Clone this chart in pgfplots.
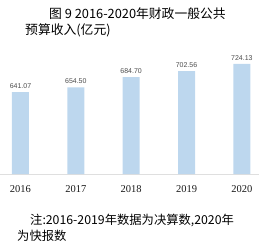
\documentclass[border=0pt]{standalone}
\usepackage{fontspec}
\setmainfont{Liberation Serif}
\newfontfamily\cjk{Noto Sans CJK SC}
\newfontfamily\lsans{Liberation Sans}
\usepackage{pgfplots}
\pgfplotsset{compat=1.18}
\definecolor{barblue}{HTML}{BDD7EE}
\begin{document}
\begin{tikzpicture}
\useasboundingbox (0pt,0pt) rectangle (259pt,244pt);
\begin{axis}[
  at={(0pt,70pt)}, anchor=south west,
  scale only axis, width=259pt, height=134pt,
  xmin=-0.37, xmax=4.31, ymin=400, ymax=794,
  axis x line*=bottom, axis y line=none,
  x axis line style={draw=gray!25, line width=0.6pt, -},
  xtick={0,1,2,3,4}, xticklabels={2016,2017,2018,2019,2020},
  xtick style={draw=none},
  xticklabel style={font=\fontsize{10.5}{10.5}\selectfont, text=black!90, yshift=-4pt},
  ybar, bar width=17pt,
  nodes near coords,
  nodes near coords style={font=\lsans\fontsize{7}{7}\selectfont, text=black!70},
  point meta=explicit symbolic,
  clip=true,
]
\addplot[fill=barblue, draw=none] coordinates {
 (0,641.07) [641.07]
 (1,654.50) [654.50]
 (2,684.70) [684.70]
 (3,702.56) [702.56]
 (4,724.13) [724.13]
};
\end{axis}
\node[anchor=west, font=\cjk\fontsize{12.8}{12.8}\selectfont, inner sep=0] at (49pt,230pt) {图 9 2016-2020年财政一般公共};
\node[anchor=west, font=\cjk\fontsize{12.8}{12.8}\selectfont, inner sep=0] at (25pt,214pt) {预算收入(亿元)};
\node[anchor=west, font=\cjk\fontsize{12.3}{12.3}\selectfont, inner sep=0] at (30pt,24pt) {注:2016-2019年数据为决算数,2020年};
\node[anchor=west, font=\cjk\fontsize{12.3}{12.3}\selectfont, inner sep=0] at (17pt,8pt) {为快报数};
\end{tikzpicture}
\end{document}
